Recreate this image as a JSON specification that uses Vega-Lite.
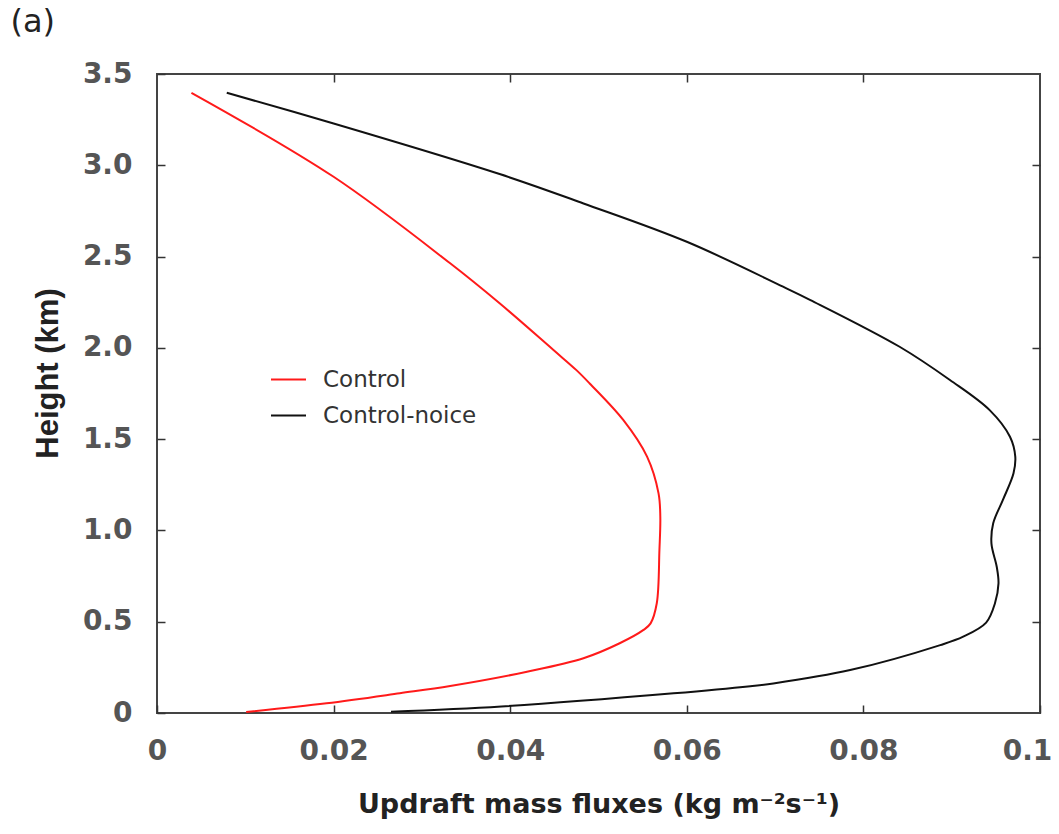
{
  "$schema": "https://vega.github.io/schema/vega-lite/v6.json",
  "autosize": "none",
  "width": 883,
  "height": 639,
  "padding": {"left": 157, "top": 74, "right": 19, "bottom": 121},
  "background": "white",
  "config": {
    "view": {"stroke": "#444", "strokeWidth": 2},
    "axis": {
      "grid": false,
      "domain": false,
      "tickColor": "#333",
      "tickWidth": 1.5,
      "tickSize": -8,
      "labelFont": "DejaVu Sans",
      "labelFontWeight": "bold",
      "labelFontSize": 28,
      "labelColor": "#555",
      "titleColor": "#222",
      "titleFontWeight": "bold"
    },
    "legend": {
      "orient": "none",
      "legendX": 113,
      "legendY": 287,
      "padding": 0,
      "symbolType": "stroke",
      "symbolSize": 1225,
      "symbolStrokeWidth": 2,
      "labelFont": "DejaVu Sans",
      "labelFontSize": 23,
      "labelColor": "#333",
      "labelOffset": 16,
      "rowPadding": 5,
      "title": null
    }
  },
  "data": {
    "values": [
      {"series": "Control", "i": 1, "flux": 0.0039, "h": 3.397},
      {"series": "Control", "i": 2, "flux": 0.0200, "h": 2.937},
      {"series": "Control", "i": 3, "flux": 0.0332, "h": 2.463},
      {"series": "Control", "i": 4, "flux": 0.0388, "h": 2.244},
      {"series": "Control", "i": 5, "flux": 0.0449, "h": 1.988},
      {"series": "Control", "i": 6, "flux": 0.0475, "h": 1.878},
      {"series": "Control", "i": 7, "flux": 0.0490, "h": 1.805},
      {"series": "Control", "i": 8, "flux": 0.0528, "h": 1.605},
      {"series": "Control", "i": 9, "flux": 0.0555, "h": 1.404},
      {"series": "Control", "i": 10, "flux": 0.0568, "h": 1.203},
      {"series": "Control", "i": 11, "flux": 0.0570, "h": 1.075},
      {"series": "Control", "i": 12, "flux": 0.0569, "h": 0.893},
      {"series": "Control", "i": 13, "flux": 0.0566, "h": 0.601},
      {"series": "Control", "i": 14, "flux": 0.0559, "h": 0.491},
      {"series": "Control", "i": 15, "flux": 0.0551, "h": 0.455},
      {"series": "Control", "i": 16, "flux": 0.0524, "h": 0.382},
      {"series": "Control", "i": 17, "flux": 0.0483, "h": 0.300},
      {"series": "Control", "i": 18, "flux": 0.0419, "h": 0.226},
      {"series": "Control", "i": 19, "flux": 0.0332, "h": 0.148},
      {"series": "Control", "i": 20, "flux": 0.0275, "h": 0.108},
      {"series": "Control", "i": 21, "flux": 0.0192, "h": 0.053},
      {"series": "Control", "i": 22, "flux": 0.0101, "h": 0.005},
      {"series": "Control-noice", "i": 1, "flux": 0.0079, "h": 3.397},
      {"series": "Control-noice", "i": 2, "flux": 0.0200, "h": 3.229},
      {"series": "Control-noice", "i": 3, "flux": 0.0388, "h": 2.952},
      {"series": "Control-noice", "i": 4, "flux": 0.0483, "h": 2.791},
      {"series": "Control-noice", "i": 5, "flux": 0.0600, "h": 2.581},
      {"series": "Control-noice", "i": 6, "flux": 0.0709, "h": 2.335},
      {"series": "Control-noice", "i": 7, "flux": 0.0740, "h": 2.262},
      {"series": "Control-noice", "i": 8, "flux": 0.0841, "h": 2.006},
      {"series": "Control-noice", "i": 9, "flux": 0.0898, "h": 1.824},
      {"series": "Control-noice", "i": 10, "flux": 0.0943, "h": 1.659},
      {"series": "Control-noice", "i": 11, "flux": 0.0966, "h": 1.513},
      {"series": "Control-noice", "i": 12, "flux": 0.0972, "h": 1.404},
      {"series": "Control-noice", "i": 13, "flux": 0.0970, "h": 1.313},
      {"series": "Control-noice", "i": 14, "flux": 0.0958, "h": 1.167},
      {"series": "Control-noice", "i": 15, "flux": 0.0947, "h": 1.039},
      {"series": "Control-noice", "i": 16, "flux": 0.0945, "h": 0.929},
      {"series": "Control-noice", "i": 17, "flux": 0.0951, "h": 0.801},
      {"series": "Control-noice", "i": 18, "flux": 0.0953, "h": 0.710},
      {"series": "Control-noice", "i": 19, "flux": 0.0949, "h": 0.601},
      {"series": "Control-noice", "i": 20, "flux": 0.0939, "h": 0.495},
      {"series": "Control-noice", "i": 21, "flux": 0.0913, "h": 0.418},
      {"series": "Control-noice", "i": 22, "flux": 0.0887, "h": 0.372},
      {"series": "Control-noice", "i": 23, "flux": 0.0785, "h": 0.235},
      {"series": "Control-noice", "i": 24, "flux": 0.0698, "h": 0.162},
      {"series": "Control-noice", "i": 25, "flux": 0.0672, "h": 0.147},
      {"series": "Control-noice", "i": 26, "flux": 0.0585, "h": 0.108},
      {"series": "Control-noice", "i": 27, "flux": 0.0390, "h": 0.036},
      {"series": "Control-noice", "i": 28, "flux": 0.0265, "h": 0.007}
    ]
  },
  "layer": [
    {
      "mark": {"type": "line", "strokeWidth": 2, "interpolate": "catmull-rom"},
      "encoding": {
        "x": {
          "field": "flux", "type": "quantitative",
          "scale": {"domain": [0, 0.1], "nice": false, "zero": false},
          "axis": {
            "orient": "bottom",
            "values": [0, 0.02, 0.04, 0.06, 0.08, 0.1],
            "format": "~g",
            "labelPadding": 32,
            "labelFlush": false,
            "labelOffset": {"condition": {"test": "datum.value == 0.1", "value": -13}, "value": 0},
            "title": "Updraft mass fluxes (kg m⁻²s⁻¹)",
            "titleFont": "DejaVu Sans",
            "titleFontSize": 27,
            "titlePadding": 26
          }
        },
        "y": {
          "field": "h", "type": "quantitative",
          "scale": {"domain": [0, 3.5], "nice": false, "zero": false},
          "axis": {
            "orient": "left",
            "values": [0, 0.5, 1, 1.5, 2, 2.5, 3, 3.5],
            "labelExpr": "datum.value == 0 ? '0' : format(datum.value, '.1f')",
            "labelPadding": 33,
            "labelFlush": false,
            "title": "Height (km)",
            "titleFont": "Liberation Sans",
            "titleFontSize": 31,
            "titlePadding": 18,
            "titleY": 299
          }
        },
        "color": {
          "field": "series", "type": "nominal",
          "scale": {"domain": ["Control", "Control-noice"], "range": ["#ff1a1a", "#111111"]}
        },
        "order": {"field": "i", "type": "quantitative"}
      }
    },
    {
      "mark": {"type": "line", "opacity": 0},
      "encoding": {
        "x": {
          "field": "flux", "type": "quantitative",
          "axis": {
            "orient": "top",
            "values": [0.02, 0.04, 0.06, 0.08],
            "labels": false,
            "title": "(a)",
            "titleFont": "DejaVu Sans",
            "titleFontSize": 32,
            "titleFontWeight": "normal",
            "titleColor": "#222",
            "titleAngle": 0,
            "titleAlign": "left",
            "titleBaseline": "alphabetic",
            "titleX": -147,
            "titleY": -43
          }
        },
        "y": {
          "field": "h", "type": "quantitative",
          "axis": {"orient": "right", "values": [0.5, 1, 1.5, 2, 2.5, 3], "labels": false, "title": null}
        },
        "detail": {"field": "series", "type": "nominal"},
        "order": {"field": "i", "type": "quantitative"}
      }
    }
  ],
  "resolve": {"axis": {"x": "independent", "y": "independent"}}
}
